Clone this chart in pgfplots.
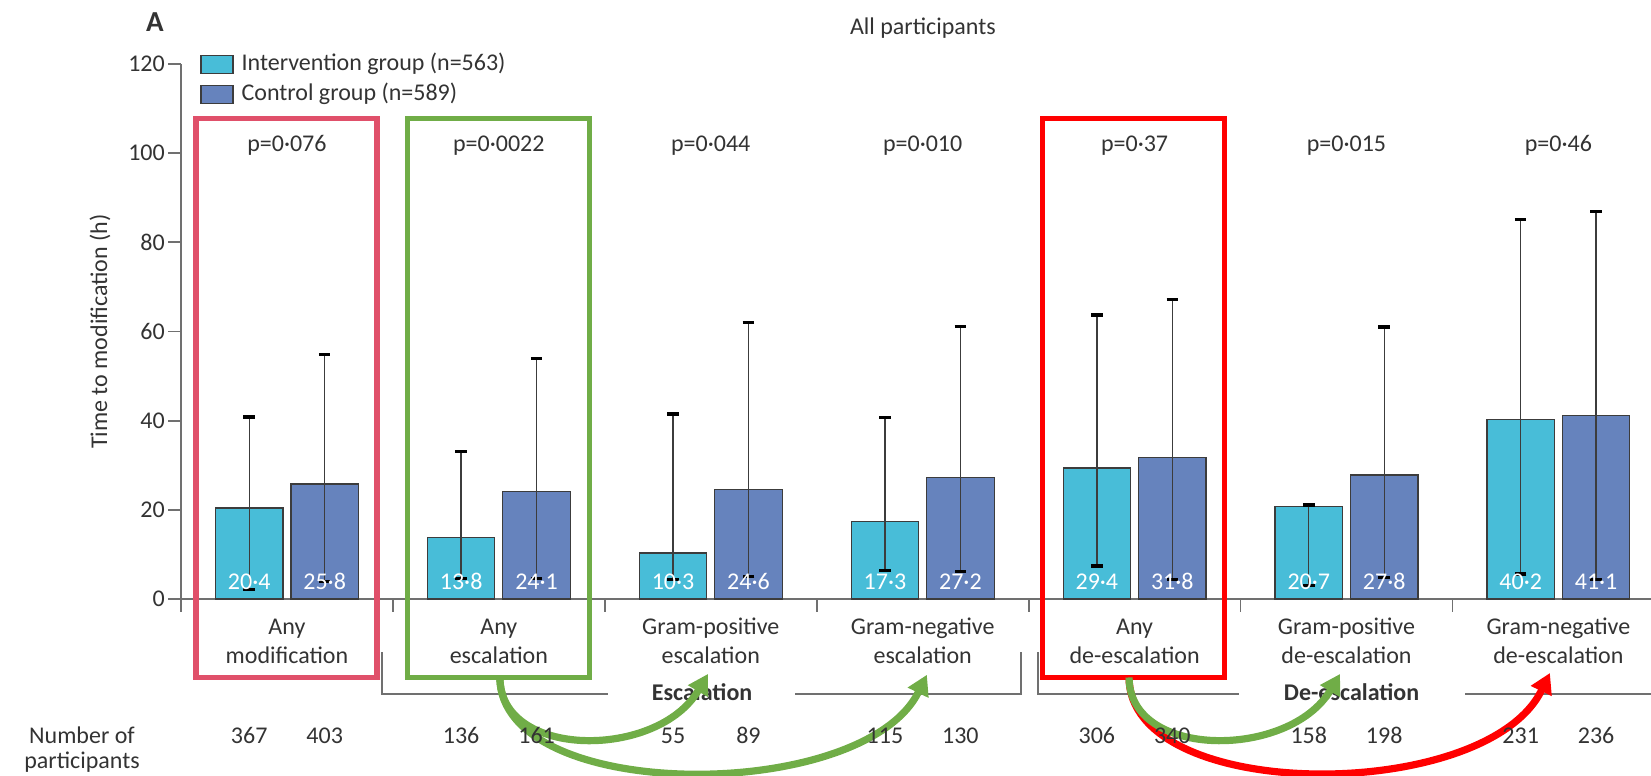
\documentclass[border=0pt]{standalone}
\usepackage{pgfplots}
\pgfplotsset{compat=1.18}
\usepackage{pgfplotstable}
\usepackage{fontspec}
\setmainfont{Carlito}
\usetikzlibrary{arrows.meta}
\definecolor{intc}{HTML}{48BDD8}
\definecolor{ctrl}{HTML}{6683BD}
\definecolor{txt}{HTML}{333333}
\definecolor{axg}{HTML}{707070}
\definecolor{barline}{HTML}{3C3C3C}
\definecolor{pinkb}{HTML}{E0506A}
\definecolor{greenb}{HTML}{70AD47}
\definecolor{redb}{HTML}{FF0000}

% x: bar centre, y: median, ep/em: distance to upper/lower IQR end, lab: printed value, n: participants, b: label base
\pgfplotstableread{
x       y     ep    em    lab   n    b
-0.178  20.4  20.4  18.2  20·4  367  0
0.822   13.8  19.2  9.2   13·8  136  0
1.822   10.3  31.2  6.0   10·3  55   0
2.822   17.3  23.4  10.9  17·3  115  0
3.822   29.4  34.3  22.0  29·4  306  0
4.822   20.7  0.4   17.6  20·7  158  0
5.822   40.2  45.0  34.6  40·2  231  0
}\intervention
\pgfplotstableread{
x       y     ep    em    lab   n    b
0.178   25.8  29.0  21.8  25·8  403  0
1.178   24.1  29.8  19.5  24·1  161  0
2.178   24.6  37.4  19.5  24·6  89   0
3.178   27.2  34.0  21.1  27·2  130  0
4.178   31.8  35.4  27.5  31·8  340  0
5.178   27.8  33.2  22.9  27·8  198  0
6.178   41.1  45.8  36.8  41·1  236  0
}\control
% group centres, p values
\pgfplotstableread[col sep=comma]{
g,p,py
0,p=0·076,100.3
1,p=0·0022,100.3
2,p=0·044,100.3
3,p=0·010,100.3
4,p=0·37,100.3
5,p=0·015,100.3
6,p=0·46,100.3
}\groups

\begin{document}
\begin{tikzpicture}[font=\fontsize{12}{14}\selectfont, text=txt]
\begin{axis}[
  scale only axis, width=735pt, height=267.5pt,
  xmin=-0.5, xmax=6.437, ymin=0, ymax=120, clip=false,
  axis x line*=bottom, axis y line*=left,
  axis line style={axg, line width=0.9pt, -},
  xtick={-0.5,0.5,...,5.5}, xticklabels={},
  ytick={0,20,...,120},
  tick align=outside, major tick length=6.4pt,
  tick style={axg, line width=0.9pt},
  /pgf/number format/assume math mode=true,
  yticklabel style={inner sep=0pt, xshift=-1.5pt, text=txt},
  legend cell align=left,
  legend style={draw=none, fill=none, inner sep=0pt, at={(rel axis cs:0,1)}, anchor=north west,
    xshift=9.5pt, yshift=6pt, row sep=3pt, column sep=4pt,
    nodes={inner sep=0pt, text height=9pt, text depth=3pt, text=txt}},
]
\addplot[ybar, bar width=0.3185, bar shift=0pt, fill=intc, draw=barline, line width=0.6pt,
  legend image code/.code={\draw[fill=intc, draw=barline, line width=0.6pt] (0pt,-4.5pt) rectangle (16pt,4.5pt);},
  error bars/.cd, y dir=both, y explicit,
  error bar style={line width=0.7pt, draw=barline},
  error mark options={rotate=90, line width=1.6pt, mark size=2.9pt, black}]
  table[x=x, y=y, y error plus=ep, y error minus=em] {\intervention};
\addlegendentry{Intervention group (n=563)}
\addplot[ybar, bar width=0.3185, bar shift=0pt, fill=ctrl, draw=barline, line width=0.6pt,
  legend image code/.code={\draw[fill=ctrl, draw=barline, line width=0.6pt] (0pt,-4.5pt) rectangle (16pt,4.5pt);},
  error bars/.cd, y dir=both, y explicit,
  error bar style={line width=0.7pt, draw=barline},
  error mark options={rotate=90, line width=1.6pt, mark size=2.9pt, black}]
  table[x=x, y=y, y error plus=ep, y error minus=em] {\control};
\addlegendentry{Control group (n=589)}

% values printed inside the bars
\addplot[draw=none, mark=none, forget plot, nodes near coords, point meta=explicit symbolic,
  nodes near coords style={anchor=base, text=white, yshift=5pt, inner sep=0pt}]
  table[x=x, y=b, meta=lab] {\intervention};
\addplot[draw=none, mark=none, forget plot, nodes near coords, point meta=explicit symbolic,
  nodes near coords style={anchor=base, text=white, yshift=5pt, inner sep=0pt}]
  table[x=x, y=b, meta=lab] {\control};
% number of participants
\addplot[draw=none, mark=none, forget plot, nodes near coords, point meta=explicit symbolic,
  nodes near coords style={anchor=base, text=txt, yshift=-72pt, inner sep=0pt}]
  table[x=x, y=b, meta=n] {\intervention};
\addplot[draw=none, mark=none, forget plot, nodes near coords, point meta=explicit symbolic,
  nodes near coords style={anchor=base, text=txt, yshift=-72pt, inner sep=0pt}]
  table[x=x, y=b, meta=n] {\control};
% p values
\addplot[draw=none, mark=none, forget plot, nodes near coords, point meta=explicit symbolic,
  nodes near coords style={anchor=base, text=txt, yshift=0pt, inner sep=0pt}]
  table[x=g, y=py, meta=p] {\groups};

% category labels
\node[anchor=base, inner sep=0pt] at ([yshift=-17.5pt]axis cs:0,0) {Any};
\node[anchor=base, inner sep=0pt] at ([yshift=-32pt]axis cs:0,0) {modification};
\node[anchor=base, inner sep=0pt] at ([yshift=-17.5pt]axis cs:1,0) {Any};
\node[anchor=base, inner sep=0pt] at ([yshift=-32pt]axis cs:1,0) {escalation};
\node[anchor=base, inner sep=0pt] at ([yshift=-17.5pt]axis cs:2,0) {Gram-positive};
\node[anchor=base, inner sep=0pt] at ([yshift=-32pt]axis cs:2,0) {escalation};
\node[anchor=base, inner sep=0pt] at ([yshift=-17.5pt]axis cs:3,0) {Gram-negative};
\node[anchor=base, inner sep=0pt] at ([yshift=-32pt]axis cs:3,0) {escalation};
\node[anchor=base, inner sep=0pt] at ([yshift=-17.5pt]axis cs:4,0) {Any};
\node[anchor=base, inner sep=0pt] at ([yshift=-32pt]axis cs:4,0) {de-escalation};
\node[anchor=base, inner sep=0pt] at ([yshift=-17.5pt]axis cs:5,0) {Gram-positive};
\node[anchor=base, inner sep=0pt] at ([yshift=-32pt]axis cs:5,0) {de-escalation};
\node[anchor=base, inner sep=0pt] at ([yshift=-17.5pt]axis cs:6,0) {Gram-negative};
\node[anchor=base, inner sep=0pt] at ([yshift=-32pt]axis cs:6,0) {de-escalation};
% brackets
\draw[axg, line width=1pt] ([yshift=-26.5pt]axis cs:0.449,0) -- ([yshift=-47.5pt]axis cs:0.449,0) -- ([yshift=-47.5pt]axis cs:1.515,0);
\draw[axg, line width=1pt] ([yshift=-47.5pt]axis cs:2.398,0) -- ([yshift=-47.5pt]axis cs:3.464,0) -- ([yshift=-26.5pt]axis cs:3.464,0);
\node[anchor=base, inner sep=0pt, font=\fontsize{12}{14}\selectfont\bfseries] at ([yshift=-50.5pt]axis cs:1.959,0) {Escalation};
\draw[axg, line width=1pt] ([yshift=-26.5pt]axis cs:3.544,0) -- ([yshift=-47.5pt]axis cs:3.544,0) -- ([yshift=-47.5pt]axis cs:4.493,0);
\draw[axg, line width=1pt] ([yshift=-47.5pt]axis cs:5.56,0) -- ([yshift=-47.5pt]axis cs:6.437,0);
\node[anchor=base, inner sep=0pt, font=\fontsize{12}{14}\selectfont\bfseries] at ([yshift=-50.5pt]axis cs:5.024,0) {De-escalation};

% row title, axis title, panel letter, chart title
\node[anchor=base, inner sep=0pt] at ([xshift=-49.5pt,yshift=-72pt]axis cs:-0.5,0) {Number of};
\node[anchor=base, inner sep=0pt] at ([xshift=-49.5pt,yshift=-84.5pt]axis cs:-0.5,0) {participants};
\node[rotate=90, inner sep=0pt] at ([xshift=-40.5pt]axis cs:-0.5,60) {Time to modification (h)};
\node[anchor=base, inner sep=0pt, font=\fontsize{14.5}{16}\selectfont\bfseries] at ([xshift=-13pt,yshift=16pt]axis cs:-0.5,120) {A};
\node[anchor=base, inner sep=0pt] at ([yshift=14.5pt]axis cs:3.001,120) {All participants};

% highlight boxes
\draw[pinkb, line width=2.6pt] (axis cs:-0.429,-17.6) rectangle (axis cs:0.425,107.75);
\draw[greenb, line width=2.6pt] (axis cs:0.569,-17.6) rectangle (axis cs:1.428,107.75);
\draw[redb, line width=2.6pt] (axis cs:3.566,-17.6) rectangle (axis cs:4.424,107.75);
% arrows
\draw[greenb, line width=3.6pt, -{Triangle[length=10pt, width=11pt]}] (axis cs:1.005,-17.6) .. controls (axis cs:1.005,-36) and (axis cs:1.75,-36) .. (axis cs:1.987,-16.8);
\draw[greenb, line width=3.6pt, -{Triangle[length=10pt, width=11pt]}] (axis cs:1.005,-17.6) .. controls (axis cs:1.005,-46) and (axis cs:2.72,-46) .. (axis cs:3.02,-17);
\draw[redb, line width=3.6pt, -{Triangle[length=10pt, width=11pt]}] (axis cs:3.974,-17.6) .. controls (axis cs:3.974,-46) and (axis cs:5.66,-46) .. (axis cs:5.96,-16.6);
\draw[greenb, line width=3.6pt, -{Triangle[length=10pt, width=11pt]}] (axis cs:3.974,-17.6) .. controls (axis cs:3.974,-36) and (axis cs:4.73,-36) .. (axis cs:4.97,-16.8);
\end{axis}
\pgfresetboundingbox
\path[use as bounding box] (-90.5pt,-88.5pt) rectangle (735pt,299.5pt);
\end{tikzpicture}
\end{document}
